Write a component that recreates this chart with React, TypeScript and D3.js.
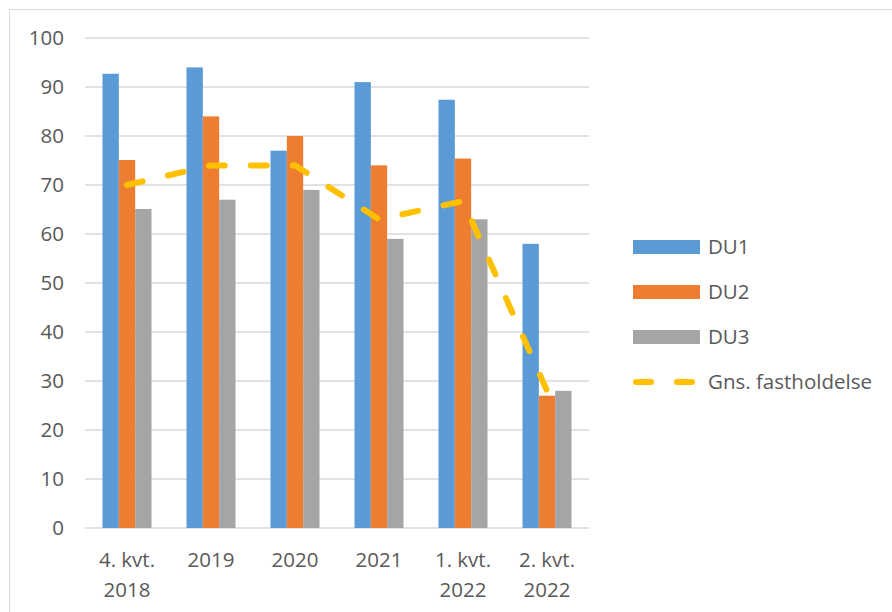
import React from 'react';
import * as d3 from 'd3';

const categories = [['4. kvt.', '2018'], ['2019'], ['2020'], ['2021'], ['1. kvt.', '2022'], ['2. kvt.', '2022']];
const seriesNames = ['DU1', 'DU2', 'DU3'];
const du1 = [92.7, 94, 77, 91, 87.4, 58];
const du2 = [75.1, 84, 80, 74, 75.4, 27];
const du3 = [65.1, 67, 69, 59, 63, 28];
const avgName = 'Gns. fastholdelse';
const avg = [70, 74, 74, 63, 66.7, 28];
const yTicks = [0, 10, 20, 30, 40, 50, 60, 70, 80, 90, 100];
const colors = ['#5B9BD5', '#ED7D31', '#A5A5A5'];
const lineColor = '#FFC000';

const W = 892;
const H = 612;
const font = "'Open Sans', sans-serif";
const textColor = '#595959';
const fs = 20.5;

export default function App() {
  const keys = categories.map((c, i) => String(i));
  const x = d3.scaleBand().domain(keys).range([85, 589]).paddingInner(0).paddingOuter(0);
  const y = d3.scaleLinear().domain([0, 100]).range([528, 38]);
  const groupW = 49;
  const x1 = d3.scaleBand().domain(seriesNames).range([0, groupW]);
  const series = [du1, du2, du3];

  const line = d3.line<number>()
    .x((d, i) => (x(keys[i]) as number) + x.bandwidth() / 2)
    .y(d => y(d));

  return (
    <svg width={W} height={H} style={{ position: 'absolute', left: 0, top: 0, background: '#fff' }}>
      <rect x={9.5} y={9.5} width={W + 20} height={H + 20} fill="#fff" stroke="#D9D9D9" />
      {yTicks.map(t => (
        <g key={t}>
          <line x1={85} x2={589} y1={y(t)} y2={y(t)} stroke="#D9D9D9" strokeWidth={1.5} />
          <text x={64} y={y(t)} dy="0.35em" textAnchor="end" fontFamily={font} fontSize={fs} fill={textColor}>{t}</text>
        </g>
      ))}
      {keys.map((k, i) => {
        const gx = (x(k) as number) + (x.bandwidth() - groupW) / 2;
        return (
          <g key={k}>
            {series.map((s, j) => (
              <rect key={j} x={gx + (x1(seriesNames[j]) as number)} y={y(s[i])} width={x1.bandwidth()}
                height={y(0) - y(s[i])} fill={colors[j]} />
            ))}
          </g>
        );
      })}
      <path d={line(avg) || ''} fill="none" stroke={lineColor} strokeWidth={6} strokeLinecap="round" strokeDasharray="16 26" />
      {categories.map((c, i) => (
        <text key={i} x={(x(keys[i]) as number) + x.bandwidth() / 2} y={567} textAnchor="middle" fontFamily={font} fontSize={fs} fill={textColor}>
          {c.map((l, j) => (
            <tspan key={j} x={(x(keys[i]) as number) + x.bandwidth() / 2} dy={j === 0 ? 0 : 30}>{l}</tspan>
          ))}
        </text>
      ))}
      {seriesNames.map((n, j) => (
        <g key={n} transform={`translate(633, ${247 + j * 45})`}>
          <rect x={0} y={-7} width={67} height={14} fill={colors[j]} />
          <text x={75} y={0} dy="0.35em" fontFamily={font} fontSize={fs} fill={textColor}>{n}</text>
        </g>
      ))}
      <g transform="translate(633, 382)">
        <line x1={3} x2={64} y1={0} y2={0} stroke={lineColor} strokeWidth={6} strokeLinecap="round" strokeDasharray="15 26" />
        <text x={75} y={0} dy="0.35em" fontFamily={font} fontSize={fs} fill={textColor}>{avgName}</text>
      </g>
    </svg>
  );
}
